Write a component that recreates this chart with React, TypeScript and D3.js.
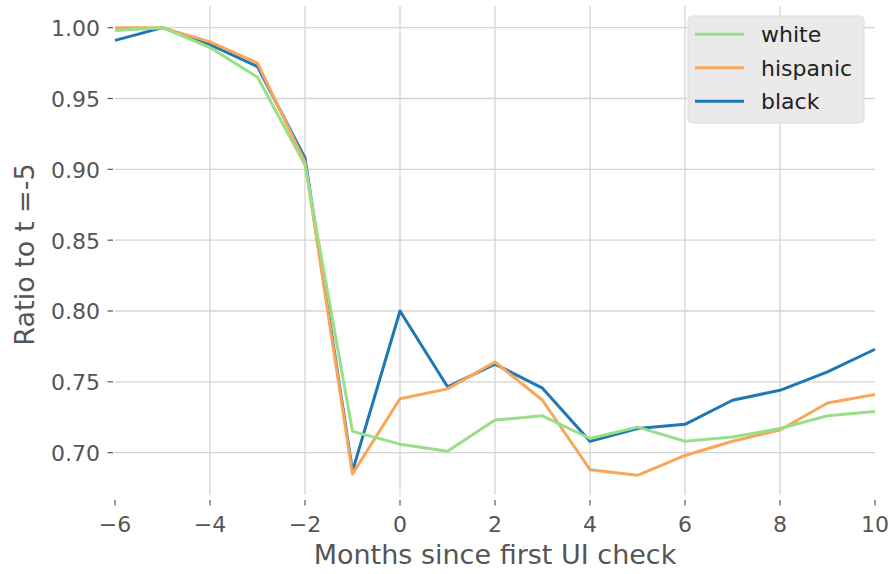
import React from "react";
import * as d3 from "d3";

const months = [-6, -5, -4, -3, -2, -1, 0, 1, 2, 3, 4, 5, 6, 7, 8, 9, 10];
const whiteVals = [0.998, 1.0, 0.986, 0.965, 0.903, 0.715, 0.706, 0.701, 0.723, 0.726, 0.71, 0.718, 0.708, 0.711, 0.717, 0.726, 0.729];
const hispanicVals = [1.0, 1.0, 0.99, 0.975, 0.905, 0.685, 0.738, 0.745, 0.764, 0.737, 0.688, 0.684, 0.698, 0.708, 0.716, 0.735, 0.741];
const blackVals = [0.991, 1.0, 0.988, 0.9725, 0.908, 0.687, 0.8, 0.7465, 0.7625, 0.7455, 0.708, 0.717, 0.72, 0.737, 0.744, 0.757, 0.773];
const xTicks = [-6, -4, -2, 0, 2, 4, 6, 8, 10];
const yTicks = [0.7, 0.75, 0.8, 0.85, 0.9, 0.95, 1.0];
const seriesNames = ["white", "hispanic", "black"];
const seriesColors = ["#98df8a", "#f9a65a", "#1f77b4"];

const W = 893;
const H = 574;
const left = 115;
const right = 875;
const top = 6;
const bottom = 495;
const FONT = "DejaVu Sans";

export default function App() {
  const x = d3.scaleLinear().domain([-6, 10]).range([left, right]);
  const y = d3.scaleLinear().domain([0.6701, 1.0153]).range([bottom, top]);
  const line = d3
    .line<number>()
    .x((_, i) => x(months[i]))
    .y((d) => y(d));
  const valsByName: Record<string, number[]> = {
    white: whiteVals,
    hispanic: hispanicVals,
    black: blackVals,
  };
  const drawOrder = ["black", "hispanic", "white"];
  const fmtX = (v: number) => (v < 0 ? "\u2212" + Math.abs(v) : String(v));

  return (
    <div style={{ position: "absolute", left: 0, top: 0 }}>
      <svg width={W} height={H} style={{ display: "block", background: "#fff" }}>
        {/* grid */}
        {yTicks.map((t) => (
          <line key={"gy" + t} x1={left} x2={right} y1={y(t)} y2={y(t)} stroke="#d4d4d4" strokeWidth={1.3} />
        ))}
        {xTicks
          .filter((t) => t !== -6 && t !== 10)
          .map((t) => (
            <line key={"gx" + t} x1={x(t)} x2={x(t)} y1={top} y2={bottom} stroke="#d4d4d4" strokeWidth={1.3} />
          ))}
        {/* ticks */}
        {yTicks.map((t) => (
          <g key={"ty" + t}>
            <line x1={107.5} x2={113} y1={y(t)} y2={y(t)} stroke="#555" strokeWidth={1.2} />
            <text x={100} y={y(t) + 8.5} textAnchor="end" fontFamily={FONT} fontSize={22} fill="#555">
              {t.toFixed(2)}
            </text>
          </g>
        ))}
        {xTicks.map((t) => (
          <g key={"tx" + t}>
            <line x1={x(t)} x2={x(t)} y1={500} y2={505.5} stroke="#555" strokeWidth={1.2} />
            <text x={x(t)} y={532} textAnchor="middle" fontFamily={FONT} fontSize={22} fill="#555">
              {fmtX(t)}
            </text>
          </g>
        ))}
        {/* lines */}
        {drawOrder.map((name) => (
          <path
            key={name}
            d={line(valsByName[name]) || ""}
            fill="none"
            stroke={seriesColors[seriesNames.indexOf(name)]}
            strokeWidth={3}
            strokeLinejoin="round"
          />
        ))}
        {/* axis labels */}
        <text x={(left + right) / 2} y={564} textAnchor="middle" fontFamily={FONT} fontSize={27} fill="#555">
          Months since first UI check
        </text>
        <text
          transform={`translate(34, ${(top + bottom) / 2 + 4}) rotate(-90)`}
          textAnchor="middle"
          fontFamily={FONT}
          fontSize={27}
          fill="#555"
        >
          Ratio to t =-5
        </text>
        {/* legend */}
        <rect x={688} y={16} width={176} height={107} rx={4} fill="#e9e9e9" fillOpacity={0.95} stroke="#dcdcdc" />
        {seriesNames.map((name, i) => {
          const ry = 34.3 + i * 33.5;
          return (
            <g key={"lg" + name}>
              <line x1={695} x2={744} y1={ry} y2={ry} stroke={seriesColors[i]} strokeWidth={3} />
              <text x={761} y={ry + 8} fontFamily={FONT} fontSize={22} fill="#222">
                {name}
              </text>
            </g>
          );
        })}
      </svg>
    </div>
  );
}
